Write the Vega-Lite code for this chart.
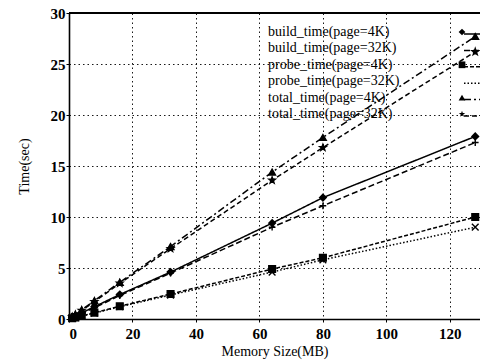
{
  "$schema": "https://vega.github.io/schema/vega-lite/v6.json",
  "autosize": {"type": "none"},
  "padding": {"left": 69, "top": 13, "right": 0, "bottom": 41},
  "width": 411,
  "height": 306,
  "background": "white",
  "config": {
    "view": {"stroke": null},
    "font": "Liberation Serif",
    "axis": {
      "domainColor": "black", "domainWidth": 1.6,
      "gridColor": "black", "gridDash": [1.5, 3], "gridOpacity": 0.9, "gridWidth": 1,
      "tickColor": "black", "tickSize": 3,
      "labelFont": "Liberation Serif", "labelFontSize": 15, "labelFontWeight": "bold", "labelColor": "black",
      "titleFont": "Liberation Serif", "titleFontSize": 14, "titleFontWeight": "normal", "titleColor": "black"
    },
    "legend": {"padding": 0, "titleLimit": 0}
  },
  "data": {"values": [
    {"mem": 1, "series": "build_time(page=4K)", "time": 0.15},
    {"mem": 2, "series": "build_time(page=4K)", "time": 0.3},
    {"mem": 4, "series": "build_time(page=4K)", "time": 0.6},
    {"mem": 8, "series": "build_time(page=4K)", "time": 1.2},
    {"mem": 16, "series": "build_time(page=4K)", "time": 2.4},
    {"mem": 32, "series": "build_time(page=4K)", "time": 4.6},
    {"mem": 64, "series": "build_time(page=4K)", "time": 9.4},
    {"mem": 80, "series": "build_time(page=4K)", "time": 11.9},
    {"mem": 128, "series": "build_time(page=4K)", "time": 17.9},
    {"mem": 1, "series": "build_time(page=32K)", "time": 0.13},
    {"mem": 2, "series": "build_time(page=32K)", "time": 0.27},
    {"mem": 4, "series": "build_time(page=32K)", "time": 0.55},
    {"mem": 8, "series": "build_time(page=32K)", "time": 1.1},
    {"mem": 16, "series": "build_time(page=32K)", "time": 2.3},
    {"mem": 32, "series": "build_time(page=32K)", "time": 4.5},
    {"mem": 64, "series": "build_time(page=32K)", "time": 9.0},
    {"mem": 80, "series": "build_time(page=32K)", "time": 11.1},
    {"mem": 128, "series": "build_time(page=32K)", "time": 17.3},
    {"mem": 1, "series": "probe_time(page=4K)", "time": 0.08},
    {"mem": 2, "series": "probe_time(page=4K)", "time": 0.15},
    {"mem": 4, "series": "probe_time(page=4K)", "time": 0.3},
    {"mem": 8, "series": "probe_time(page=4K)", "time": 0.62},
    {"mem": 16, "series": "probe_time(page=4K)", "time": 1.25},
    {"mem": 32, "series": "probe_time(page=4K)", "time": 2.45},
    {"mem": 64, "series": "probe_time(page=4K)", "time": 4.9},
    {"mem": 80, "series": "probe_time(page=4K)", "time": 6.0},
    {"mem": 128, "series": "probe_time(page=4K)", "time": 10.0},
    {"mem": 1, "series": "probe_time(page=32K)", "time": 0.07},
    {"mem": 2, "series": "probe_time(page=32K)", "time": 0.14},
    {"mem": 4, "series": "probe_time(page=32K)", "time": 0.28},
    {"mem": 8, "series": "probe_time(page=32K)", "time": 0.58},
    {"mem": 16, "series": "probe_time(page=32K)", "time": 1.2},
    {"mem": 32, "series": "probe_time(page=32K)", "time": 2.35},
    {"mem": 64, "series": "probe_time(page=32K)", "time": 4.6},
    {"mem": 80, "series": "probe_time(page=32K)", "time": 5.8},
    {"mem": 128, "series": "probe_time(page=32K)", "time": 9.0},
    {"mem": 1, "series": "total_time(page=4K)", "time": 0.23},
    {"mem": 2, "series": "total_time(page=4K)", "time": 0.45},
    {"mem": 4, "series": "total_time(page=4K)", "time": 0.9},
    {"mem": 8, "series": "total_time(page=4K)", "time": 1.8},
    {"mem": 16, "series": "total_time(page=4K)", "time": 3.6},
    {"mem": 32, "series": "total_time(page=4K)", "time": 7.1},
    {"mem": 64, "series": "total_time(page=4K)", "time": 14.4},
    {"mem": 80, "series": "total_time(page=4K)", "time": 17.8},
    {"mem": 128, "series": "total_time(page=4K)", "time": 27.7},
    {"mem": 1, "series": "total_time(page=32K)", "time": 0.2},
    {"mem": 2, "series": "total_time(page=32K)", "time": 0.41},
    {"mem": 4, "series": "total_time(page=32K)", "time": 0.83},
    {"mem": 8, "series": "total_time(page=32K)", "time": 1.7},
    {"mem": 16, "series": "total_time(page=32K)", "time": 3.5},
    {"mem": 32, "series": "total_time(page=32K)", "time": 6.9},
    {"mem": 64, "series": "total_time(page=32K)", "time": 13.6},
    {"mem": 80, "series": "total_time(page=32K)", "time": 16.8},
    {"mem": 128, "series": "total_time(page=32K)", "time": 26.2}
  ]},
  "encoding": {
    "x": {"field": "mem", "type": "quantitative",
      "scale": {"domain": [0, 129.5], "nice": false},
      "axis": {"values": [0, 20, 40, 60, 80, 100, 120], "title": "Memory Size(MB)", "labelPadding": 4, "titlePadding": 3}},
    "y": {"field": "time", "type": "quantitative",
      "scale": {"domain": [0, 30], "nice": false},
      "axis": {"values": [0, 5, 10, 15, 20, 25, 30], "title": "Time(sec)", "labelPadding": 1, "titlePadding": 19}}
  },
  "layer": [
    {
      "mark": {"type": "rule", "color": "black", "strokeWidth": 1.6},
      "encoding": {"y": {"datum": 30}, "x": null}
    },
    {
      "mark": {"type": "line", "color": "black", "strokeWidth": 1.5},
      "encoding": {
        "strokeDash": {"field": "series", "type": "nominal",
          "scale": {
            "domain": ["build_time(page=4K)", "build_time(page=32K)", "probe_time(page=4K)", "probe_time(page=32K)", "total_time(page=4K)", "total_time(page=32K)"],
            "range": [[1, 0], [6, 3], [4, 2], [1.5, 2], [7, 3, 2, 3], [5, 3]]
          },
          "legend": {
            "orient": "none", "legendX": 394, "legendY": 12, "title": null,
            "symbolType": "stroke", "symbolSize": 256, "symbolStrokeColor": "black", "symbolStrokeWidth": 1.5,
            "labelFontSize": 14, "labelExpr": "''", "labelOpacity": 0, "rowPadding": 0.4
          }
        }
      }
    },
    {
      "mark": {"type": "point", "filled": true, "fill": "black", "stroke": "black", "strokeWidth": 1.4, "size": 45, "opacity": 1},
      "encoding": {
        "shape": {"field": "series", "type": "nominal",
          "scale": {
            "domain": ["build_time(page=4K)", "build_time(page=32K)", "probe_time(page=4K)", "probe_time(page=32K)", "total_time(page=4K)", "total_time(page=32K)"],
            "range": ["diamond", "M-1,0H1M0,-1V1", "square", "M-1,-1L1,1M-1,1L1,-1", "triangle-up", "M0,-1L0.235,-0.324L0.951,-0.309L0.38,0.124L0.588,0.809L0,0.4L-0.588,0.809L-0.38,0.124L-0.951,-0.309L-0.235,-0.324Z"]
          },
          "legend": {
            "orient": "none", "legendX": 386, "legendY": 12, "title": null,
            "symbolSize": 45, "symbolFillColor": "black", "symbolStrokeColor": "black", "symbolStrokeWidth": 1.4, "symbolOpacity": 1,
            "labelFont": "Liberation Serif", "labelFontSize": 14, "labelColor": "black", "labelLimit": 300,
            "labelOffset": -201, "labelAlign": "left", "rowPadding": 2.4
          }
        }
      }
    }
  ],
  "resolve": {"legend": {"shape": "independent", "strokeDash": "independent"}}
}
